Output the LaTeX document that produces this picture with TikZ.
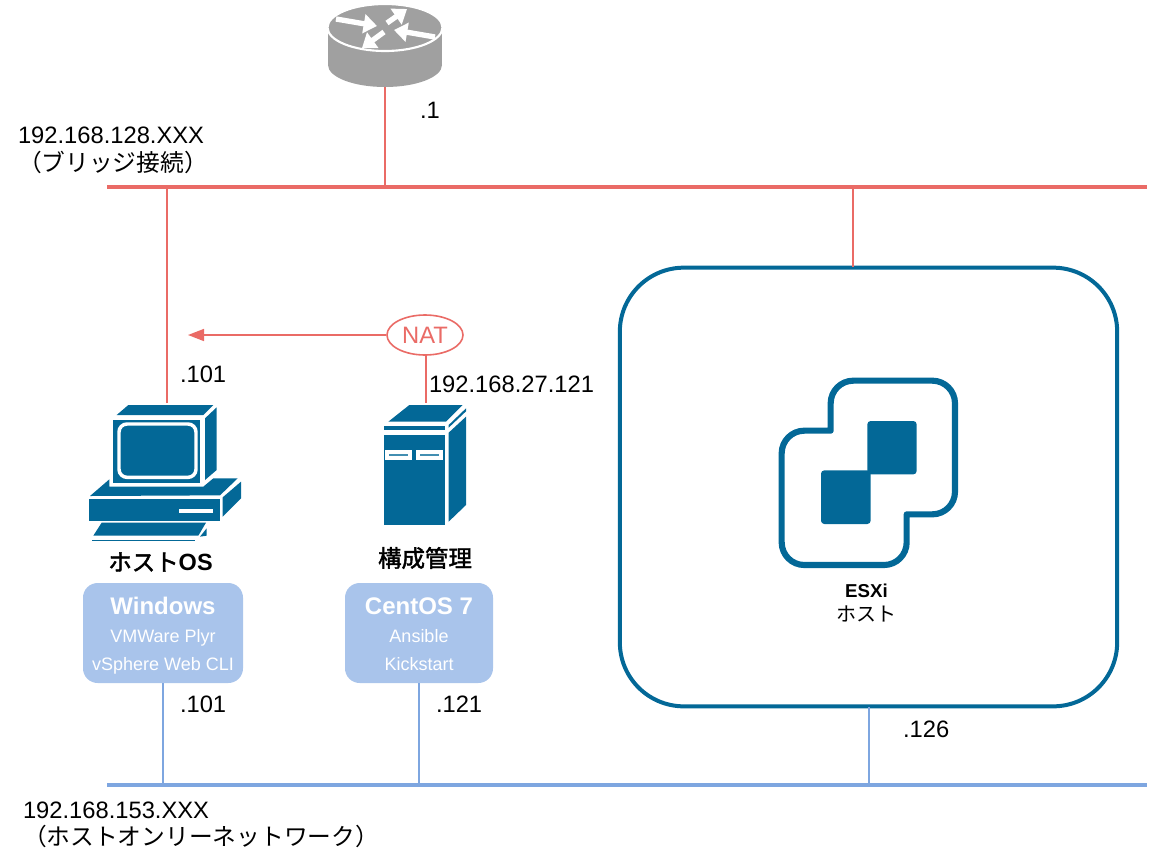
\documentclass[tikz,border=0pt]{standalone}
\usepackage{fontspec}
\setmainfont{Liberation Sans}
\newfontfamily\cjk{Noto Sans CJK JP}
\newfontfamily\cjkb[FakeBold=1.8]{Noto Sans CJK JP}
\usetikzlibrary{arrows.meta,calc,shapes.geometric}
\definecolor{iconblue}{HTML}{036897}
\definecolor{netred}{HTML}{EA6B66}
\definecolor{netblue}{HTML}{7EA6E0}
\definecolor{boxblue}{HTML}{A9C4EB}
\definecolor{routergray}{HTML}{A0A0A0}
\newcommand{\fpt}[1]{\fontsize{#1}{#1}\selectfont}
\newcommand{\boxline}[2]{{\fpt{#1}\vphantom{Ay}#2}}
\tikzset{
  x=.75pt,y=-.75pt,
  lbl/.style={inner sep=0pt,outer sep=0pt,font=\fpt{17.8}},
  lblL/.style={lbl,anchor=west},
  busred/.style={draw=netred,line width=2.6pt},
  busblue/.style={draw=netblue,line width=2.6pt},
  dropred/.style={draw=netred,line width=1.2pt},
  dropblue/.style={draw=netblue,line width=1.2pt},
  swbox/.style={fill=boxblue,rounded corners=11pt,inner sep=0pt,text=white,align=center},
  icon/.style={inner sep=0pt,outer sep=0pt},
  iconfill/.style={fill=iconblue,draw=none},
  zoomed/.style={x=.25pt,y=-.25pt},
  rarrow/.style={draw=white,line width=4pt,{Triangle[length=10pt,width=14pt]}-},
}
\begin{document}
\begin{tikzpicture}
\useasboundingbox (0,0) rectangle (1152,850);

% buses
\coordinate (redL) at (107,187);
\coordinate (redR) at (1147,187);
\coordinate (blueL) at (107,785);
\coordinate (blueR) at (1147,785);
\draw[busred] (redL) -- (redR);
\draw[busblue] (blueL) -- (blueR);

% named anchors of icons
\node[icon,minimum width=85.5pt,minimum height=62pt] (router) at (385,46) {};
\node[icon,minimum width=114pt,minimum height=93pt] (pc) at (165,465) {};
\coordinate (pcTop) at (167,403);
\node[icon,minimum width=63pt,minimum height=90pt] (server) at (426,464) {};
\coordinate (srvTop) at (426,403);

% ESXi host frame
\node[draw=iconblue,line width=3pt,rounded corners=48pt,minimum width=373pt,minimum height=329pt,inner sep=0pt] (esxi) at (868.5,487) {};
\coordinate (esxiRed) at (853,267);
\coordinate (esxiBlue) at (869,707);

% software boxes
\node[swbox,minimum width=120pt,minimum height=75pt] (win) at (163,633) {%
  \boxline{18}{\rule{0pt}{17.5pt}\bfseries Windows}\\[6.5pt]
  \boxline{13.5}{VMWare Plyr}\\[7.45pt]
  \boxline{13.5}{vSphere Web CLI}};
\node[swbox,minimum width=111pt,minimum height=75pt] (cent) at (419,633) {%
  \boxline{18}{\rule{0pt}{17.5pt}\bfseries CentOS 7}\\[6.5pt]
  \boxline{13.5}{Ansible}\\[7.45pt]
  \boxline{13.5}{Kickstart}};

% NAT
\node[draw=netred,line width=1.2pt,ellipse,fill=white,minimum width=57pt,minimum height=30pt,inner sep=0pt,text=netred,font=\fpt{17.8}] (nat) at (425,335) {NAT};
\coordinate (natTip) at (188,335);

% connectors
\draw[dropred] (router.south) -- (router.south |- redL);
\draw[dropred] (pcTop) -- (pcTop |- redL);
\draw[dropred] (esxiRed) -- (esxiRed |- redL);
\draw[dropred] (nat.south -| srvTop) -- (srvTop);
\draw[dropred,-{Triangle[length=12pt,width=9pt]}] (nat) -- (natTip);
\draw[dropblue] (win.south) -- (win.south |- blueL);
\draw[dropblue] (cent.south) -- (cent.south |- blueL);
\draw[dropblue] (esxiBlue) -- (esxiBlue |- blueL);

% router
\fill[routergray] (328,27) rectangle (442,65);
\fill[routergray] (385,65) ellipse [x radius=57,y radius=22];
\draw[white,line width=1.6pt,fill=routergray] (385,27.5) ellipse [x radius=57.5,y radius=23.5];
\draw[rarrow] (377,26) -- (336,19);
\draw[rarrow] (407,9) -- (387,23);
\draw[rarrow] (394,30) -- (435,37);
\draw[rarrow] (362,48) -- (384,32);

% PC
\begin{scope}[shift={(70,390)},zoomed]
  \fill[iconfill] (140,75) -- (175,45) -- (430,45) -- (400,75) -- cycle;
  \fill[iconfill] (405,85) -- (440,52) -- (440,240) -- (405,270) -- cycle;
  \fill[iconfill] (130,90) rectangle (390,280);
  \draw[white,line width=2.6pt,rounded corners=6pt,fill=iconblue] (147,102) rectangle (378,262);
  \fill[iconfill] (60,318) -- (118,268) -- (118,290) -- (400,290) -- (430,265) -- (503,265) -- (450,316) -- cycle;
  \fill[iconfill] (58,328) rectangle (450,392);
  \fill[white] (328,357) rectangle (430,370);
  \fill[iconfill] (458,322) -- (513,275) -- (513,325) -- (458,380) -- cycle;
  \fill[iconfill] (70,437) -- (95,398) -- (408,398) -- (385,437) -- cycle;
  \fill[iconfill] (66,450) rectangle (375,453);
  \fill[iconfill] (390,440) -- (410,415) -- (410,437) -- cycle;
\end{scope}

% server
\begin{scope}[shift={(360,390)},zoomed]
  \fill[iconfill] (85,95) -- (148,45) -- (308,45) -- (258,95) -- cycle;
  \fill[iconfill] (72,108) rectangle (255,121);
  \fill[iconfill] (72,134) rectangle (255,405);
  \fill[iconfill] (266,128) -- (318,80) -- (318,345) -- (266,395) -- cycle;
  \fill[iconfill] (266,105) -- (318,55) -- (318,64) -- (266,113) -- cycle;
  \foreach \xa/\xb in {76/155,168/248}{
    \fill[white] (\xa,181) rectangle (\xb,210);
    \fill[iconblue!75] ($(\xa,193)+(12,0)$) rectangle ($(\xb,197)+(-12,0)$);
  }
\end{scope}

% ESXi logo
\begin{scope}[shift={(760,360)},zoomed]
  \draw[iconblue,line width=4.6pt,line join=round]
    (212,212) [rounded corners=17pt] -- (212,62) -- (585,62) -- (585,463) [sharp corners] -- (440,463)
    [rounded corners=17pt] -- (440,615) -- (65,615) -- (65,212) [sharp corners] -- cycle;
  \fill[iconfill,rounded corners=2.5pt] (322,183) rectangle (470,343);
  \fill[iconfill,rounded corners=2.5pt] (183,331) rectangle (332,492);
\end{scope}

% labels
\node[lblL] (t1) at (420,110) {.1};
\node[lblL] (t2) at (18,135) {192.168.128.XXX};
\node[lbl,anchor=west,font=\fpt{17.8}\cjk] (t3) at (18,162) {（ブリッジ接続）};
\node[lblL] (t4) at (180,374) {.101};
\node[lblL] (t5) at (429,384) {192.168.27.121};
\node[lbl,font=\fpt{17.6}\cjkb] (t6) at (160.5,562) {ホスト{\normalfont\bfseries OS}};
\node[lbl,font=\fpt{17.6}\cjkb] (t7) at (425,558) {構成管理};
\node[lbl,font=\fpt{14}\bfseries] (t8) at (866.5,591) {ESXi};
\node[lbl,font=\fpt{15}\cjk] (t9) at (866,614) {ホスト};
\node[lblL] (t10) at (180,704) {.101};
\node[lblL] (t11) at (436,704) {.121};
\node[lblL] (t12) at (903,729) {.126};
\node[lblL] (t13) at (23,810) {192.168.153.XXX};
\node[lbl,anchor=west,font=\fpt{17.8}\cjk] (t14) at (23,836) {（ホストオンリーネットワーク）};
\end{tikzpicture}
\end{document}
